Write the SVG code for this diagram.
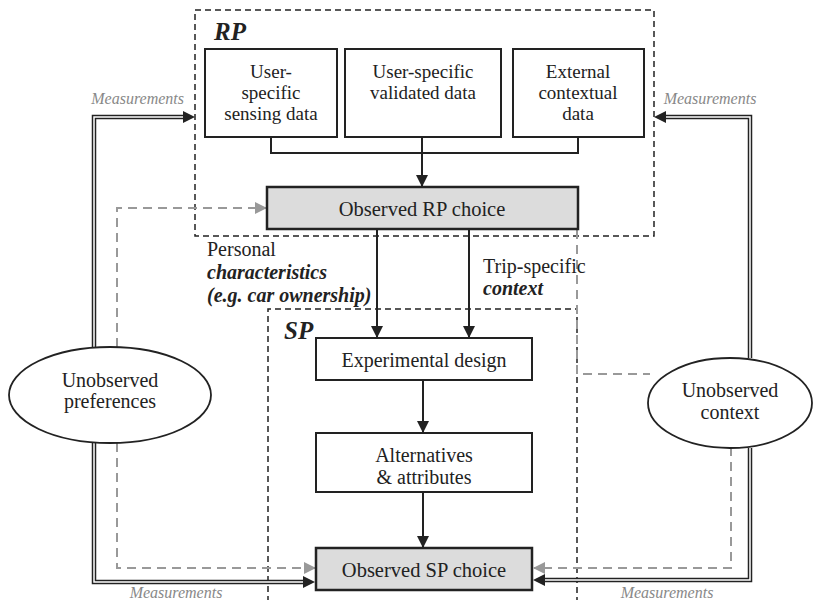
<svg xmlns="http://www.w3.org/2000/svg" width="831" height="600" viewBox="0 0 831 600" font-family="'Liberation Serif', 'DejaVu Serif', serif">
<defs>
<style>
text{font-family:'Liberation Serif','Times New Roman','DejaVu Serif',serif;font-size:20px;fill:#222;text-anchor:middle}
.top{font-size:19px}
.ch{font-size:20.5px}
.box{fill:#fff;stroke:#222;stroke-width:2}
.choice{fill:#dcdcdc;stroke:#222;stroke-width:2.5}
.frame{fill:none;stroke:#222;stroke-width:1.5;stroke-dasharray:6,4}
.lbl{font-weight:bold;font-style:italic;font-size:25px;text-anchor:start}
.meas{font-style:italic;font-size:16px;fill:#888}
.bi{font-weight:bold;font-style:italic}
.solid{fill:none;stroke:#222;stroke-width:2}
.gray{fill:none;stroke:#999;stroke-width:2;stroke-dasharray:9,6}
.dblo{fill:none;stroke:#222;stroke-width:4.5}
.dbli{fill:none;stroke:#fff;stroke-width:1.5}
</style>
<marker id="ab" markerWidth="12" markerHeight="12" refX="11" refY="6" orient="auto" markerUnits="userSpaceOnUse"><path d="M0,0 L12,6 L0,12 Z" fill="#222"/></marker>
<marker id="ag" markerWidth="12" markerHeight="12" refX="11" refY="6" orient="auto" markerUnits="userSpaceOnUse"><path d="M0,0 L12,6 L0,12 Z" fill="#999"/></marker>
</defs>
<rect width="831" height="600" fill="#fff"/>

<g id="rp-frame"><rect class="frame" x="195" y="10" width="459" height="226"/><text class="lbl" x="214" y="40">RP</text></g>
<g id="sp-frame"><path class="frame" d="M268,602 V309 H577 V602"/><text class="lbl" x="284" y="339">SP</text></g>

<g id="connectors">
<path class="gray" d="M577,230 V374 H650"/>
<path class="gray" d="M117,347 V208 H266" marker-end="url(#ag)"/>
<path class="gray" d="M117,443 V568 H315" marker-end="url(#ag)"/>
<path class="gray" d="M731,447 V568 H534" marker-end="url(#ag)"/>
<path class="dblo" d="M94,347 V117 H185"/><path class="dbli" d="M94,347 V117 H185"/>
<path d="M183,111 L195,117 L183,123 Z" fill="#222"/>
<path class="dblo" d="M94,443 V582 H305"/><path class="dbli" d="M94,443 V582 H305"/>
<path d="M303,576 L315,582 L303,588 Z" fill="#222"/>
<path class="dblo" d="M750,358 V117 H664"/><path class="dbli" d="M750,358 V117 H664"/>
<path d="M666,111 L654,117 L666,123 Z" fill="#222"/>
<path class="dblo" d="M750,448 V580 H543"/><path class="dbli" d="M750,448 V580 H543"/>
<path d="M545,574 L533,580 L545,586 Z" fill="#222"/>
<path class="solid" d="M271,137 V153 H578 V137"/>
<path class="solid" d="M422,137 V186" marker-end="url(#ab)"/>
<path class="solid" d="M377,229 V337" marker-end="url(#ab)"/>
<path class="solid" d="M469,229 V337" marker-end="url(#ab)"/>
<path class="solid" d="M423,380 V432" marker-end="url(#ab)"/>
<path class="solid" d="M423,492 V547" marker-end="url(#ab)"/>
</g>

<g id="sensing"><rect class="box" x="205" y="49" width="132" height="88"/><text class="top" x="271" y="78">User-</text><text class="top" x="271" y="99">specific</text><text class="top" x="271" y="120">sensing data</text></g>
<g id="validated"><rect class="box" x="345" y="49" width="156" height="88"/><text class="top" x="423" y="78">User-specific</text><text class="top" x="423" y="99">validated data</text></g>
<g id="external"><rect class="box" x="513" y="49" width="131" height="88"/><text class="top" x="578" y="78">External</text><text class="top" x="578" y="99">contextual</text><text class="top" x="578" y="120">data</text></g>
<g id="rp-choice"><rect class="choice" x="267" y="187" width="311" height="42"/><text class="ch" x="422" y="216">Observed RP choice</text></g>
<g id="exp-design"><rect class="box" x="316" y="338" width="216" height="42"/><text x="424" y="367">Experimental design</text></g>
<g id="alternatives"><rect class="box" x="316" y="433" width="216" height="59"/><text x="424" y="462">Alternatives</text><text x="424" y="484">&amp; attributes</text></g>
<g id="sp-choice"><rect class="choice" x="316" y="548" width="216" height="42"/><text class="ch" x="424" y="577">Observed SP choice</text></g>
<g id="preferences"><ellipse cx="110" cy="395" rx="101" ry="48" fill="#fff" stroke="#222" stroke-width="1.8"/><text x="110" y="387">Unobserved</text><text x="110" y="408">preferences</text></g>
<g id="context"><ellipse cx="730" cy="403" rx="82" ry="45" fill="#fff" stroke="#222" stroke-width="1.8"/><text x="730" y="397">Unobserved</text><text x="730" y="419">context</text></g>

<g id="labels">
<text x="207" y="256" style="text-anchor:start">Personal</text>
<text class="bi" x="207" y="279" style="text-anchor:start">characteristics</text>
<text class="bi" x="207" y="302" style="text-anchor:start">(e.g. car ownership)</text>
<text x="483" y="273" style="text-anchor:start">Trip-specific</text>
<text class="bi" x="483" y="295" style="text-anchor:start">context</text>
<text class="meas" x="184" y="104" style="text-anchor:end">Measurements</text>
<text class="meas" x="710" y="104">Measurements</text>
<text class="meas" x="176" y="598">Measurements</text>
<text class="meas" x="667" y="598">Measurements</text>
</g>
</svg>
